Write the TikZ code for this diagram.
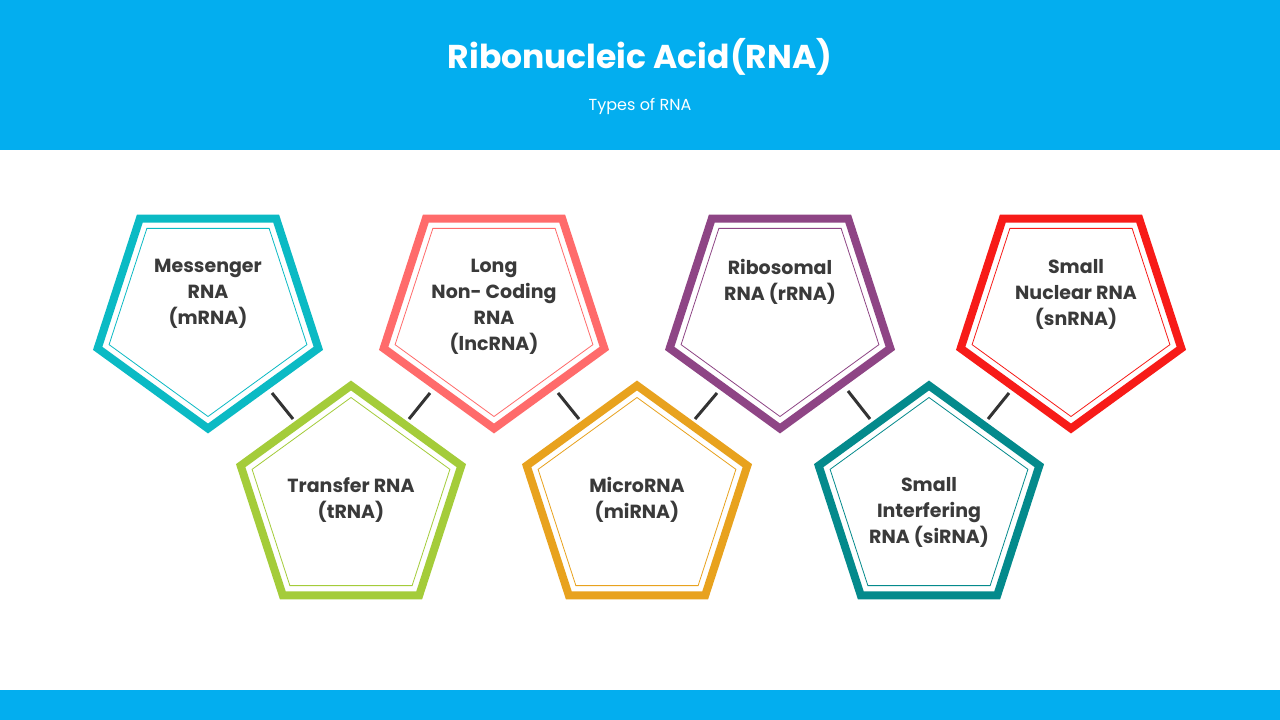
\documentclass[tikz,border=0pt]{standalone}
\usepackage{fontspec}
\setmainfont{Poppins}
\begin{document}
\begin{tikzpicture}[x=1pt,y=-1pt,
  lbl/.style={font=\bfseries\fontsize{19}{26}\selectfont, text=txt, align=center, anchor=north},
  conn/.style={line width=3pt, draw=conncol}]
\definecolor{hdr}{HTML}{03AEEF}
\definecolor{txt}{HTML}{3A3A3A}
\definecolor{conncol}{HTML}{333333}
\definecolor{cA}{HTML}{0BBAC4}
\definecolor{cB}{HTML}{A4CC3A}
\definecolor{cC}{HTML}{FF6B6B}
\definecolor{cD}{HTML}{E8A21E}
\definecolor{cE}{HTML}{8E4585}
\definecolor{cF}{HTML}{048A8C}
\definecolor{cG}{HTML}{F71B18}
\useasboundingbox (0,0) rectangle (1280,720);
\fill[white] (0,0) rectangle (1280,720);
\fill[hdr] (0,0) rectangle (1280,150);
\fill[hdr] (0,690) rectangle (1280,720);
\node[font=\bfseries\fontsize{33}{40}\selectfont, text=white] (title) at (640,57) {Ribonucleic Acid(RNA)};
\node[font=\fontsize{16}{20}\selectfont, text=white] (sub) at (640,106) {Types of RNA};
% pentagons: #1 cx, #2 cy, #3 color, #4 orientation (1 = apex down, -1 = apex up)
\newcommand{\pent}[4]{%
  \draw[#3, line width=8pt, line join=miter]
    ({#1+116*sin(0)},{#2+#4*116*cos(0)}) -- ({#1+116*sin(72)},{#2+#4*116*cos(72)}) -- ({#1+116*sin(144)},{#2+#4*116*cos(144)}) -- ({#1+116*sin(216)},{#2+#4*116*cos(216)}) -- ({#1+116*sin(288)},{#2+#4*116*cos(288)}) -- cycle;
  \draw[#3, line width=0.8pt]
    ({#1+104*sin(0)},{#2+#4*104*cos(0)}) -- ({#1+104*sin(72)},{#2+#4*104*cos(72)}) -- ({#1+104*sin(144)},{#2+#4*104*cos(144)}) -- ({#1+104*sin(216)},{#2+#4*104*cos(216)}) -- ({#1+104*sin(288)},{#2+#4*104*cos(288)}) -- cycle;}
\pent{208}{312.5}{cA}{1}
\pent{494}{312.5}{cC}{1}
\pent{780}{312.5}{cE}{1}
\pent{1071}{312.5}{cG}{1}
\pent{351}{501.5}{cB}{-1}
\pent{637}{501.5}{cD}{-1}
\pent{929}{501.5}{cF}{-1}
\node[lbl] (m) at (208,256) {Messenger\\RNA\\(mRNA)};
\node[lbl] (l) at (494,256) {Long\\Non- Coding\\RNA\\(lncRNA)};
\node[lbl] (r) at (780,256) {Ribosomal\\RNA (rRNA)};
\node[lbl] (s) at (1076,256) {Small\\Nuclear RNA\\(snRNA)};
\node[lbl] (t) at (351,474) {Transfer RNA\\(tRNA)};
\node[lbl] (mi) at (637,474) {MicroRNA\\(miRNA)};
\node[lbl] (si) at (929,474) {Small\\Interfering\\RNA (siRNA)};
\coordinate (a1) at (272,393); \coordinate (a2) at (293,419);
\coordinate (b1) at (409,419); \coordinate (b2) at (430,393);
\coordinate (c1) at (558,393); \coordinate (c2) at (579,419);
\coordinate (d1) at (695,419); \coordinate (d2) at (717,393);
\coordinate (e1) at (848,391); \coordinate (e2) at (870,419);
\coordinate (f1) at (988,419); \coordinate (f2) at (1009,393);
\draw[conn] (a1)--(a2); \draw[conn] (b1)--(b2); \draw[conn] (c1)--(c2);
\draw[conn] (d1)--(d2); \draw[conn] (e1)--(e2); \draw[conn] (f1)--(f2);
\end{tikzpicture}
\end{document}
